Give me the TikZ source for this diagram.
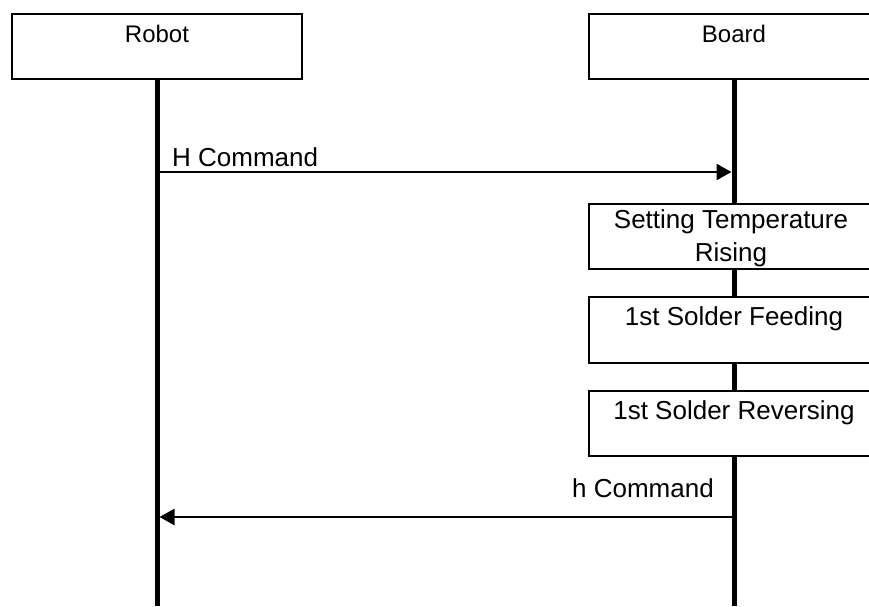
\documentclass[tikz,border=0pt]{standalone}
\usepackage{fontspec}
\setmainfont{Liberation Sans}
\usetikzlibrary{positioning,arrows.meta}

\tikzstyle{headbox} = [
    draw,
    line width=1.9pt,
    rectangle,
    minimum width=290pt,
    minimum height=65pt,
    inner sep=0pt,
    outer sep=0pt
    ]
\tikzstyle{actbox} = [
    draw,
    fill=white,
    line width=1.9pt,
    rectangle,
    minimum width=290pt,
    minimum height=65pt,
    inner sep=0pt,
    outer sep=0pt
    ]
\tikzstyle{headtext} = [font=\fontsize{24}{28}\selectfont, inner sep=0pt, anchor=base]
\tikzstyle{acttext} = [font=\fontsize{26}{33}\selectfont, inner sep=0pt, align=center, anchor=north]
\tikzstyle{msgtext} = [font=\fontsize{26}{31}\selectfont, inner sep=0pt]
\tikzstyle{lifeline} = [line width=5pt]
\tikzstyle{msg} = [line width=2.5pt, -{Triangle[length=15pt,width=16pt]}]

\begin{document}
\begin{tikzpicture}[x=1pt,y=-1pt]
\useasboundingbox (0,0) rectangle (869,606);
\clip (0,0) rectangle (869,606);

% participants
\node[headbox, anchor=north west] (robot) at (12,14) {};
\node[headbox, anchor=north west] (board) at (589,14) {};
\node[headtext] at ([yshift=-28.5pt]robot.north) {Robot};
\node[headtext] at ([yshift=-28.5pt]board.north) {Board};

% lifelines
\coordinate (robotend) at (robot.south |- 0,606);
\coordinate (boardend) at (board.south |- 0,606);
\draw[lifeline] (robot.south) -- (robotend);
\draw[lifeline] (board.south) -- (boardend);

% H command
\coordinate (hstart) at ([xshift=2.5pt]robot.south |- 0,172);
\coordinate (hend) at ([xshift=-2.5pt]board.south |- 0,172);
\draw[msg] (hstart) -- (hend);
\node[msgtext, anchor=base west] at ([xshift=12.5pt, yshift=6pt]hstart) {H Command};

% board steps
\node[actbox, below=125pt of board] (rise) {};
\node[actbox, below=28pt of rise, minimum height=66pt] (feed) {};
\node[actbox, below=28pt of feed] (reverse) {};
\node[acttext] at ([xshift=-3pt, yshift=-5pt]rise.north) {Setting Temperature\\Rising};
\node[acttext] at ([yshift=-9.5pt]feed.north) {1st Solder Feeding};
\node[acttext] at ([yshift=-9.5pt]reverse.north) {1st Solder Reversing};

% h command
\coordinate (bstart) at (board.south |- 0,517);
\coordinate (bend) at ([xshift=2.5pt]robot.south |- 0,517);
\draw[msg] (bstart) -- (bend);
\node[msgtext, anchor=base east] at ([xshift=-20pt, yshift=20pt]bstart) {h Command};
\end{tikzpicture}
\end{document}
